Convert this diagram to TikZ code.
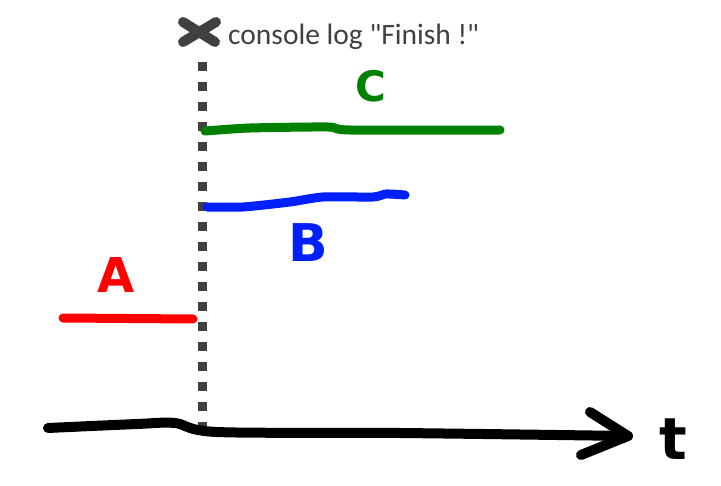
\documentclass[tikz,border=0pt]{standalone}
\usepackage{fontspec}
\setmainfont{Carlito}[Ligatures=TeXOff]
\newfontfamily\handfont{DejaVu Sans}
\definecolor{markgray}{HTML}{404040}
\definecolor{cgreen}{HTML}{008000}
\definecolor{bblue}{HTML}{0020FF}
\definecolor{ared}{HTML}{FF0000}
\begin{document}
\begin{tikzpicture}[x=1pt,y=-1pt,
  stroke/.style={line width=9pt,line cap=round,line join=round},
  dotline/.style={line width=9pt,markgray,dash pattern=on 9pt off 11pt},
  axisline/.style={stroke,line width=10pt,black},
  hand/.style={inner sep=0pt,font=\handfont\bfseries\fontsize{#1}{#1}\selectfont},
  lbl/.style={inner sep=0pt,anchor=base west,text=markgray,font=\fontsize{29.5}{34}\selectfont}]
\useasboundingbox (0,0) rectangle (721,486);
% finish marker
\coordinate (xm) at (199,32);
\draw[stroke,markgray,line width=10pt] ([shift={(-16,-10)}]xm) -- ([shift={(16,10)}]xm);
\draw[stroke,markgray,line width=10pt] ([shift={(17,-10)}]xm) -- ([shift={(-16,10)}]xm);
\node[lbl] (finish) at (228,45) {console log \symbol{34}Finish !\symbol{34}};
% dotted vertical line
\coordinate (dtop) at (202,62);
\coordinate (dbot) at (202,431);
\draw[dotline] (dtop) -- (dbot);
% C
\draw[stroke,cgreen] plot[smooth,tension=0.4] coordinates {(205,131) (250,128) (328,127) (350,130) (500,130)};
\node[hand=42,text=cgreen] (C) at (371,86) {C};
% B
\draw[stroke,bblue] plot[smooth,tension=0.4] coordinates {(207,207) (243,207) (290,202) (323,197) (373,197) (386,194) (405,195)};
\node[hand=52,text=bblue] (B) at (308,243) {B};
% A
\draw[stroke,ared] (63,318) -- (193,319);
\node[hand=48,text=ared] (A) at (116,275) {A};
% time axis
\coordinate (tip) at (628,436);
\draw[axisline] plot[smooth,tension=0.5] coordinates {(48,428) (137,424) (175,423) (217,432) (400,433) (628,436)};
\draw[axisline] (590,412) -- (tip) -- (581,455);
\node[hand=58,text=black] (t) at (673,439) {t};
\end{tikzpicture}
\end{document}
